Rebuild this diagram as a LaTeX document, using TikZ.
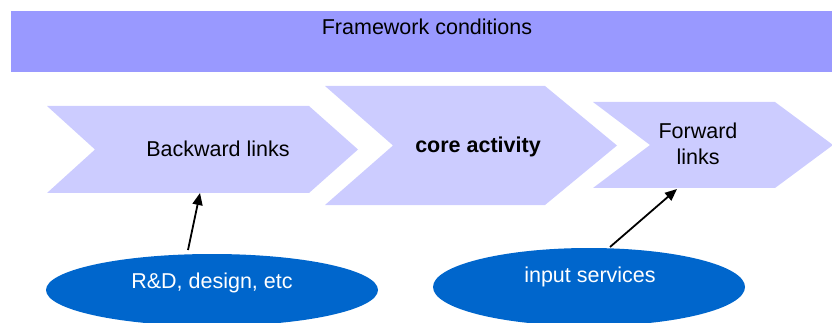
\documentclass[tikz,border=0pt]{standalone}
\usepackage{fontspec}
\setmainfont{Liberation Sans}
\usetikzlibrary{shapes.geometric,arrows.meta}
\definecolor{barblue}{HTML}{9999FF}
\definecolor{chevblue}{HTML}{CCCCFF}
\definecolor{ellblue}{HTML}{0066CC}
\tikzset{
  chev/.style={fill=chevblue,draw=none},
  lbl/.style={font=\fontsize{21.5}{25}\selectfont,inner sep=0pt,align=center},
  ell/.style={ellipse,fill=ellblue,draw=none,inner sep=0pt},
  ellt/.style={lbl,text=white},
  link/.style={line width=1.8pt,-{Triangle[length=12pt,width=10pt]}}
}
\begin{document}
\begin{tikzpicture}[x=1pt,y=-1pt]
\useasboundingbox (0,0) rectangle (832,323);
\clip (0,0) rectangle (832,323);
% framework bar
\fill[barblue] (11,11) rectangle (832,72);
\node[lbl] (fw) at (427,27) {Framework conditions};
% chevrons
\fill[chev] (47,106) -- (309,106) -- (358,149.5) -- (309,193) -- (47,193) -- (95,149.5) -- cycle;
\fill[chev] (325,86) -- (545,86) -- (617,145.5) -- (545,205) -- (325,205) -- (393,145.5) -- cycle;
\fill[chev] (593,102) -- (775,102) -- (833,145) -- (775,188) -- (593,188) -- (650,145) -- cycle;
\node[lbl] (bl) at (218,149) {Backward links};
\node[lbl,font=\fontsize{21.5}{25}\selectfont\bfseries] (ca) at (478,147) {core activity};
\node[lbl,font=\fontsize{21.5}{26}\selectfont] (fl) at (698,144) {Forward\\links};
\coordinate (blb) at (200,193);
\coordinate (flb) at (677,189);
% ellipses
\node[ell,minimum width=332pt,minimum height=72pt] (e1) at (212,290) {};
\node[ell,minimum width=312pt,minimum height=78pt] (e2) at (589,287) {};
\node[ellt] (t1) at (212,283) {R\&D, design, etc};
\node[ellt] (t2) at (590,277) {input services};
\coordinate (e1s) at (188,250);
\coordinate (e2s) at (610,247);
\draw[link] (e1s) -- (blb);
\draw[link] (e2s) -- (flb);
\end{tikzpicture}
\end{document}
